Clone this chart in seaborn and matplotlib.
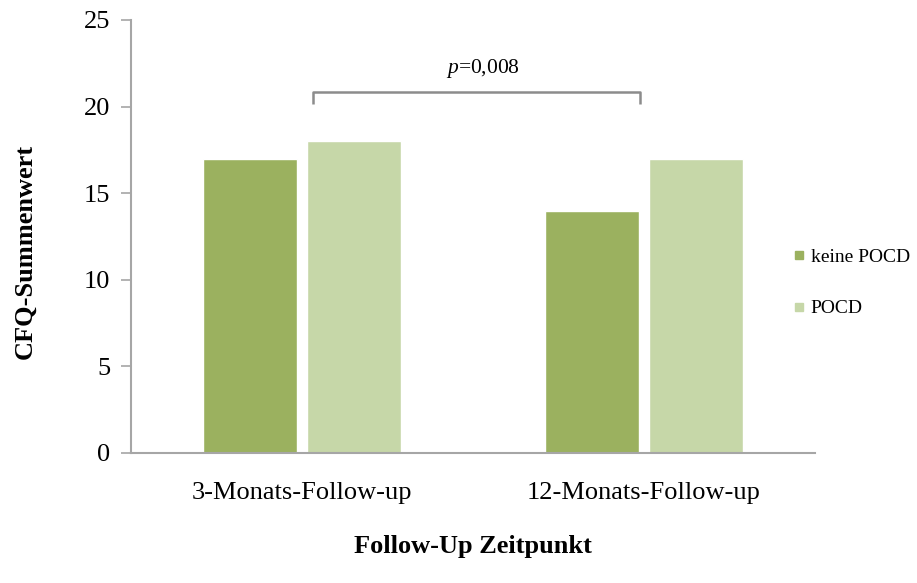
import matplotlib
matplotlib.use("Agg")
import matplotlib.pyplot as plt
import seaborn as sns
import pandas as pd

# Data
categories = ["3-Monats-Follow-up", "12-Monats-Follow-up"]
groups = ["keine POCD", "POCD"]
keine_pocd = [17, 14]
pocd = [18, 17]
y_ticks = [0, 5, 10, 15, 20, 25]
p_label = "=0,008"

colors = ["#9BB15F", "#C6D7A8"]
axis_gray = "#A6A6A6"

df = pd.DataFrame({
    "Zeitpunkt": categories * 2,
    "Gruppe": [groups[0]] * 2 + [groups[1]] * 2,
    "Wert": keine_pocd + pocd,
})

sns.set_theme(style="white")
plt.rcParams["font.family"] = ["Liberation Serif", "DejaVu Serif"]
plt.rcParams["mathtext.fontset"] = "custom"
plt.rcParams["mathtext.it"] = "Liberation Serif:italic"
plt.rcParams["mathtext.rm"] = "Liberation Serif"
plt.rcParams["text.color"] = "black"
plt.rcParams["axes.labelcolor"] = "black"
plt.rcParams["xtick.labelcolor"] = "black"
plt.rcParams["ytick.labelcolor"] = "black"

fig = plt.figure(figsize=(9.17, 5.83), dpi=100)
ax = fig.add_axes([0.1429, 0.223, 0.7459, 0.7427])

sns.barplot(data=df, x="Zeitpunkt", y="Wert", hue="Gruppe", order=categories,
            hue_order=groups, palette=colors, width=0.61, gap=0.1,
            saturation=1, errorbar=None, ax=ax, legend=False)

ax.set_xlim(-0.5, 1.5)
ax.set_ylim(0, 25)
ax.set_yticks(y_ticks)
ax.tick_params(axis="y", direction="out", length=7, width=1.2, color=axis_gray,
               labelsize=19, pad=8, left=True, labelcolor="black")
ax.tick_params(axis="x", length=0, labelsize=19, pad=21, labelcolor="black")

for side in ["top", "right"]:
    ax.spines[side].set_visible(False)
for side in ["left", "bottom"]:
    ax.spines[side].set_color(axis_gray)
    ax.spines[side].set_linewidth(1.5)

ax.set_xlabel("Follow-Up Zeitpunkt", fontsize=19, fontweight="bold", color="black")
ax.set_ylabel("CFQ-Summenwert", fontsize=19, fontweight="bold", color="black")
ax.xaxis.set_label_coords(0.5, -0.19)
ax.yaxis.set_label_coords(-0.138, 0.465)

# Significance bracket between the two time points
x0, x1 = 0.032, 0.988
y_top, y_end = 20.85, 20.15
ax.plot([x0, x0, x1, x1], [y_end, y_top, y_top, y_end], color="#8C8C8C",
        linewidth=1.8, solid_capstyle="butt", clip_on=False)
ax.text(0.528, 22.2, r"$\mathit{p}$" + p_label, ha="center", va="center",
        fontsize=15.5, color="black")

# Legend with small square markers
handles = [plt.Line2D([], [], marker="s", linestyle="", markersize=6,
                      markerfacecolor=c, markeredgecolor=c) for c in colors]
leg = fig.legend(handles, groups, loc="center left", bbox_to_anchor=(0.846, 0.515),
                 frameon=False, fontsize=14, handlelength=0.6, handletextpad=0.3,
                 labelspacing=1.75, labelcolor="black")

fig.savefig("out.png", dpi=100)
